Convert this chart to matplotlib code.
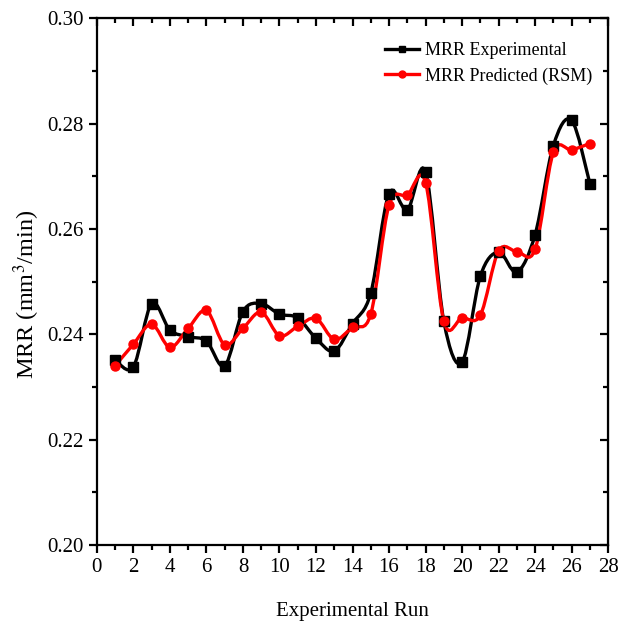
import numpy as np
import matplotlib
matplotlib.use("Agg")
import matplotlib.pyplot as plt
from matplotlib.path import Path
from matplotlib.patches import PathPatch
from matplotlib.ticker import MultipleLocator

plt.rcParams['font.family'] = ['Liberation Serif', 'DejaVu Serif']
plt.rcParams['mathtext.fontset'] = 'stix'

runs = list(range(1, 28))
mrr_exp = [0.2351, 0.2338, 0.2458, 0.2408, 0.2395, 0.2387, 0.2340, 0.2443, 0.2458,
           0.2438, 0.2431, 0.2392, 0.2368, 0.2420, 0.2478, 0.2667, 0.2636, 0.2708,
           0.2425, 0.2347, 0.2510, 0.2556, 0.2518, 0.2589, 0.2758, 0.2806, 0.2686]
mrr_pred = [0.2340, 0.2381, 0.2419, 0.2375, 0.2411, 0.2445, 0.2380, 0.2411, 0.2442,
            0.2397, 0.2415, 0.2430, 0.2390, 0.2413, 0.2438, 0.2645, 0.2664, 0.2688,
            0.2425, 0.2431, 0.2436, 0.2558, 0.2557, 0.2561, 0.2745, 0.2750, 0.2762]


def smooth_path(x, y):
    # Catmull-Rom spline through the data points, expressed as cubic Bezier segments
    x = np.asarray(x, float)
    y = np.asarray(y, float)
    verts = [(x[0], y[0])]
    codes = [Path.MOVETO]
    n = len(x)
    for i in range(n - 1):
        i0 = max(i - 1, 0)
        i3 = min(i + 2, n - 1)
        c1 = (x[i] + (x[i + 1] - x[i0]) / 6, y[i] + (y[i + 1] - y[i0]) / 6)
        c2 = (x[i + 1] - (x[i3] - x[i]) / 6, y[i + 1] - (y[i3] - y[i]) / 6)
        verts += [c1, c2, (x[i + 1], y[i + 1])]
        codes += [Path.CURVE4] * 3
    return Path(verts, codes)


fig = plt.figure(figsize=(6.25, 6.27), dpi=100)
ax = fig.add_axes([0.155, 0.131, 0.818, 0.840])

ax.add_patch(PathPatch(smooth_path(runs, mrr_exp), facecolor='none', edgecolor='black', lw=2.4, zorder=2))
ax.add_patch(PathPatch(smooth_path(runs, mrr_pred), facecolor='none', edgecolor='red', lw=2.4, zorder=3))
ax.plot(runs, mrr_exp, ls='none', marker='s', ms=6.5, color='black', zorder=4)
ax.plot(runs, mrr_pred, ls='none', marker='o', ms=6.5, color='red', zorder=5)

ax.plot([], [], color='black', lw=2.4, marker='s', ms=5, label='MRR Experimental')
ax.plot([], [], color='red', lw=2.4, marker='o', ms=5, label='MRR Predicted (RSM)')

ax.set_xlim(0, 28)
ax.set_ylim(0.20, 0.30)
ax.xaxis.set_major_locator(MultipleLocator(2))
ax.xaxis.set_minor_locator(MultipleLocator(1))
ax.yaxis.set_major_locator(MultipleLocator(0.02))
ax.yaxis.set_minor_locator(MultipleLocator(0.01))
ax.yaxis.set_major_formatter(matplotlib.ticker.FormatStrFormatter('%.2f'))

for s in ax.spines.values():
    s.set_linewidth(1.6)
ax.tick_params(axis='both', which='major', direction='out', length=6, width=1.6, labelsize=15)
ax.tick_params(axis='both', which='minor', direction='out', length=3.5, width=1.6)
ax.tick_params(which='both', top=False, right=False)

ax2 = ax.secondary_xaxis('top')
ax2.xaxis.set_major_locator(MultipleLocator(2))
ax2.xaxis.set_minor_locator(MultipleLocator(1))
ax2.tick_params(which='major', direction='in', length=6, width=1.6, labeltop=False)
ax2.tick_params(which='minor', direction='in', length=3.5, width=1.6)
ax3 = ax.secondary_yaxis('right')
ax3.yaxis.set_major_locator(MultipleLocator(0.02))
ax3.yaxis.set_minor_locator(MultipleLocator(0.01))
ax3.tick_params(which='major', direction='in', length=6, width=1.6, labelright=False)
ax3.tick_params(which='minor', direction='in', length=3.5, width=1.6)

ax.set_xlabel('Experimental Run', fontsize=15, labelpad=18)
ax.set_ylabel('MRR (mm$^3$/min)', fontsize=17.5)
ax.yaxis.set_label_coords(-0.107, 0.475)

ax.legend(loc='upper right', frameon=False, fontsize=13, handlelength=1.9,
          handletextpad=0.3, labelspacing=0.45, bbox_to_anchor=(1.0, 0.985))

fig.savefig('out.png', dpi=100)
